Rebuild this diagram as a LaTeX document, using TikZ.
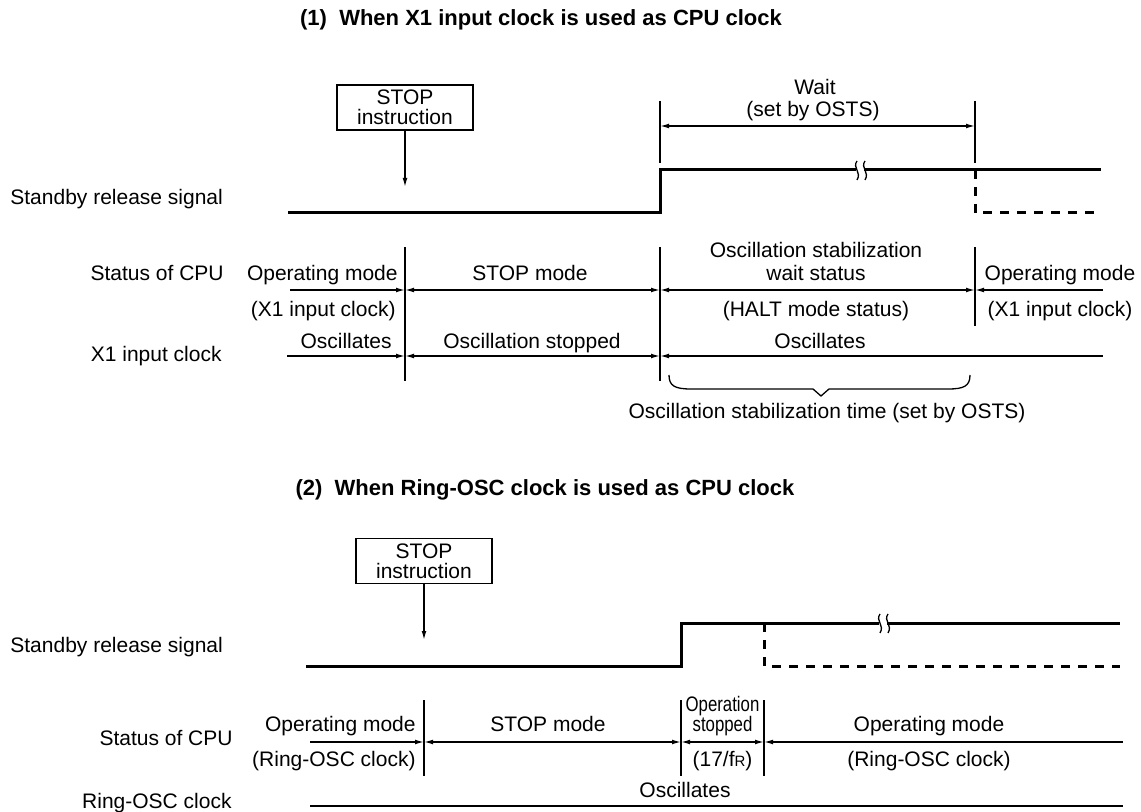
\documentclass[tikz,border=0pt]{standalone}
\usepackage{fontspec}
\setmainfont{Liberation Sans}
\usetikzlibrary{arrows.meta}
\tikzset{
  txt/.style={inner sep=0pt, anchor=base, font=\fontsize{10.5}{12}\selectfont},
  ttl/.style={inner sep=0pt, anchor=base, font=\fontsize{11}{13}\selectfont\bfseries},
  ln/.style={line width=0.65pt},
  sig/.style={line width=1.5pt},
  dsig/.style={line width=1.5pt, dash pattern=on 4.5pt off 4pt},
  arr/.style={ln, -{Latex[length=4.5pt,width=2.4pt]}},
  darr/.style={ln, {Latex[length=4.5pt,width=2.4pt]}-{Latex[length=4.5pt,width=2.4pt]}},
  stopbox/.style={draw, ln, minimum width=68pt, minimum height=22.5pt, inner sep=0pt, align=center, font=\fontsize{10.5}{10}\selectfont}
}
\newcommand{\narrow}[1]{\scalebox{0.8}[1]{#1}}
\begin{document}
\begin{tikzpicture}[x=0.5pt,y=-0.5pt]
\useasboundingbox (0,0) rectangle (1141,812);
% ================= Section 1 =================
\node[ttl] (t1) at (541,26) {(1)\ \ When X1 input clock is used as CPU clock};
\node[stopbox] (stop1) at (405,107.5) {STOP\\instruction};
\coordinate (s1a) at (405,187);
\draw[arr] (stop1.south) -- (s1a);
% wait
\coordinate (w1t) at (660,101); \coordinate (w1b) at (660,163);
\coordinate (w2t) at (975,101); \coordinate (w2b) at (975,163);
\draw[ln] (w1t) -- (w1b); \draw[ln] (w2t) -- (w2b);
\coordinate (wa) at (660,126); \coordinate (wb) at (975,126);
\draw[darr] (wa) -- (wb);
\node[txt] (wait) at (815,95) {Wait};
\node[txt] (waitb) at (813,117) {(set by OSTS)};
% standby signal
\node[txt, anchor=base west] (sb1) at (10,205) {Standby release signal};
\coordinate (p1) at (288,213); \coordinate (p2) at (660,213); \coordinate (p3) at (660,170);
\coordinate (p4) at (1101,170);
\draw[sig] (p1) -- (p2) -- (p3) -- (p4);
\coordinate (d1) at (975,170); \coordinate (d2) at (975,213); \coordinate (d3) at (1101,213);
\draw[dsig] (d1) -- (d2) -- (d3);
\fill[white] (856,160) rectangle (864,180);
\draw[ln] (857,161) .. controls (852,168) and (862,172) .. (857,180);
\draw[ln] (865,161) .. controls (860,168) and (870,172) .. (865,180);
% status verticals
\coordinate (v1t) at (405,247); \coordinate (v1b) at (405,381);
\coordinate (v2t) at (660,247); \coordinate (v2b) at (660,381);
\coordinate (v3t) at (975,247); \coordinate (v3b) at (975,326);
\draw[ln] (v1t) -- (v1b); \draw[ln] (v2t) -- (v2b); \draw[ln] (v3t) -- (v3b);
% status line
\coordinate (c0) at (290,290); \coordinate (c1) at (405,290); \coordinate (c2) at (660,290);
\coordinate (c3) at (975,290); \coordinate (c4) at (1103,290);
\draw[arr] (c0) -- (c1); \draw[darr] (c1) -- (c2); \draw[darr] (c2) -- (c3); \draw[arr] (c4) -- (c3);
\node[txt, anchor=base east] (cpu1) at (224,281) {Status of CPU};
\node[txt, anchor=base east] (om1) at (398,281) {Operating mode};
\node[txt, anchor=base east] (xc1) at (396,317) {(X1 input clock)};
\node[txt] (sm1) at (530,281) {STOP mode};
\node[txt] (os1) at (816,258) {Oscillation stabilization};
\node[txt] (ws1) at (816,281) {wait status};
\node[txt] (hm1) at (816,317) {(HALT mode status)};
\node[txt] (om2) at (1060,281) {Operating mode};
\node[txt] (xc2) at (1060,317) {(X1 input clock)};
% X1 line
\coordinate (x0) at (287,356); \coordinate (x1) at (405,356); \coordinate (x2) at (660,356);
\coordinate (x3) at (1103,356);
\draw[arr] (x0) -- (x1); \draw[darr] (x1) -- (x2); \draw[arr] (x3) -- (x2);
\node[txt, anchor=base east] (x1l) at (222,362) {X1 input clock};
\node[txt, anchor=base east] (osc1) at (392,349) {Oscillates};
\node[txt] (ost1) at (532,349) {Oscillation stopped};
\node[txt] (osc2) at (820,349) {Oscillates};
% brace
\coordinate (br1) at (669,375); \coordinate (br2) at (970,375); \coordinate (brt) at (821,396);
\draw[ln] (br1) .. controls (669,386) and (675,389) .. (691,389) -- (813,389) -- (brt) -- (829,389) -- (948,389) .. controls (964,389) and (970,386) .. (br2);
\node[txt] (brl) at (827,419) {Oscillation stabilization time (set by OSTS)};
% ================= Section 2 =================
\node[ttl] (t2) at (545,496) {(2)\ \ When Ring-OSC clock is used as CPU clock};
\node[stopbox] (stop2) at (424,561) {STOP\\instruction};
\coordinate (s2a) at (424,640);
\draw[arr] (stop2.south) -- (s2a);
\node[txt, anchor=base west] (sb2) at (10,652) {Standby release signal};
\coordinate (q1) at (306,666); \coordinate (q2) at (681,666); \coordinate (q3) at (681,623);
\coordinate (q4) at (1120,623);
\draw[sig] (q1) -- (q2) -- (q3) -- (q4);
\coordinate (e1) at (764,623); \coordinate (e2) at (764,666); \coordinate (e3) at (1120,666);
\draw[dsig] (e1) -- (e2) -- (e3);
\fill[white] (879,613) rectangle (887,633);
\draw[ln] (880,614) .. controls (875,621) and (885,625) .. (880,633);
\draw[ln] (888,614) .. controls (883,621) and (893,625) .. (888,633);
% verticals
\coordinate (u1t) at (424,700); \coordinate (u1b) at (424,776);
\coordinate (u2t) at (681,700); \coordinate (u2b) at (681,776);
\coordinate (u3t) at (764,700); \coordinate (u3b) at (764,776);
\draw[ln] (u1t) -- (u1b); \draw[ln] (u2t) -- (u2b); \draw[ln] (u3t) -- (u3b);
\coordinate (r0) at (310,742); \coordinate (r1) at (424,742); \coordinate (r2) at (681,742);
\coordinate (r3) at (764,742); \coordinate (r4) at (1123,742);
\draw[arr] (r0) -- (r1); \draw[darr] (r1) -- (r2); \draw[darr] (r2) -- (r3); \draw[arr] (r4) -- (r3);
\node[txt, anchor=base east] (cpu2) at (233,745) {Status of CPU};
\node[txt, anchor=base east] (om3) at (416,731) {Operating mode};
\node[txt, anchor=base east] (rc1) at (416,766) {(Ring-OSC clock)};
\node[txt] (sm2) at (548,731) {STOP mode};
\node[txt] (op1) at (722.5,711) {\narrow{Operation}};
\node[txt] (op2) at (722.5,731) {\narrow{stopped}};
\node[txt] (op3) at (722.5,766) {(17/f{\fontsize{7.5}{8}\selectfont R})};
\node[txt] (om4) at (929,731) {Operating mode};
\node[txt] (rc2) at (929,766) {(Ring-OSC clock)};
\coordinate (g0) at (310,806); \coordinate (g1) at (1123,806);
\draw[ln] (g0) -- (g1);
\node[txt, anchor=base east] (rl) at (232,808) {Ring-OSC clock};
\node[txt] (osc3) at (685,797) {Oscillates};
\end{tikzpicture}
\end{document}
